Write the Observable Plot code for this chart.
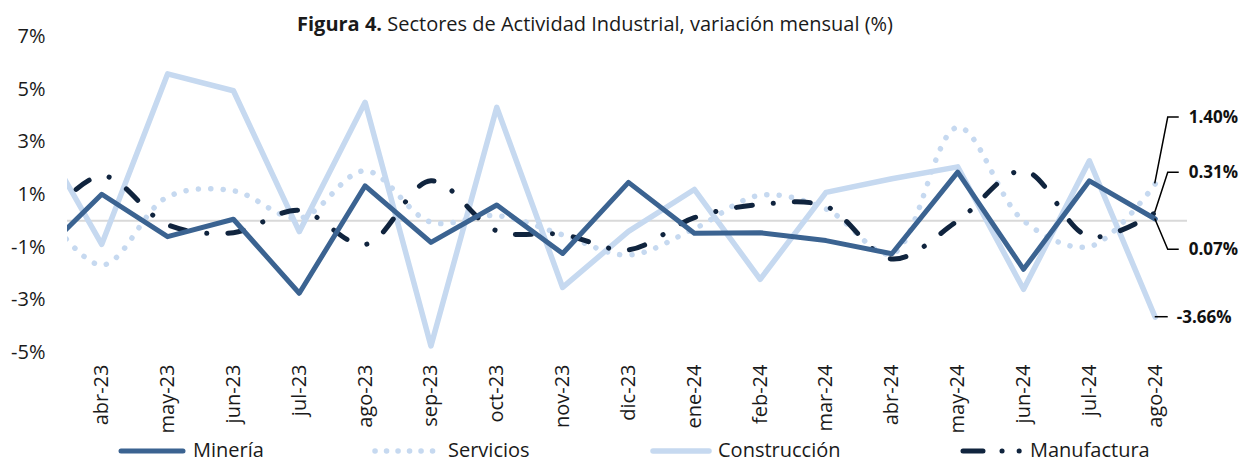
<!DOCTYPE html>
<html>
<head>
<meta charset="utf-8">
<script src="https://cdn.jsdelivr.net/npm/d3@7"></script>
<script src="https://cdn.jsdelivr.net/npm/@observablehq/plot@0.6"></script>
<style>
  html, body { margin: 0; padding: 0; background: #fff; }
  #wrap { position: relative; width: 1243px; height: 464px; font-family: "Open Sans", sans-serif; color: #1a1a1a; }
  #title { position: absolute; top: 10px; left: 297px; font-size: 20px; white-space: nowrap; }
  #legend { position: absolute; top: 436px; left: 0; width: 1243px; height: 27px; font-size: 20px; }
  .item { position: absolute; top: 0; white-space: nowrap; line-height: normal; }
</style>
</head>
<body>
<div id="wrap">
  <div id="chart"></div>
  <div id="title"><b>Figura 4.</b> Sectores de Actividad Industrial, variación mensual (%)</div>
  <div id="legend"></div>
</div>
<script>
// Categories (first one, mar-23, is only partly visible at the left edge, without a label)
const months = ["mar-23","abr-23","may-23","jun-23","jul-23","ago-23","sep-23","oct-23","nov-23","dic-23","ene-24","feb-24","mar-24","abr-24","may-24","jun-24","jul-24","ago-24"];
const xLabels = months.slice(1);
const yTicks = [-5, -3, -1, 1, 3, 5, 7];

const mineria      = [-1.45, 1.01, -0.60, 0.06, -2.75, 1.33, -0.82, 0.60, -1.24, 1.46, -0.47, -0.45, -0.75, -1.25, 1.85, -1.84, 1.52, 0.07];
const servicios    = [0.80, -1.68, 0.91, 1.14, 0.10, 1.90, -0.05, 0.20, -0.53, -1.30, -0.30, 0.97, 0.45, -1.25, 3.55, 0.00, -0.98, 1.40];
const construccion = [3.50, -0.89, 5.58, 4.94, -0.41, 4.50, -4.75, 4.31, -2.53, -0.40, 1.19, -2.22, 1.08, 1.60, 2.05, -2.60, 2.28, -3.66];
const manufactura  = [-0.40, 1.71, -0.15, -0.45, 0.40, -0.90, 1.52, -0.38, -0.52, -1.10, 0.12, 0.62, 0.55, -1.45, 0.00, 1.90, -0.60, 0.31];

const seriesNames = ["Minería", "Servicios", "Construcción", "Manufactura"];
const seriesValues = [mineria, servicios, construccion, manufactura];
const colors = ["#3b6391", "#c6d9f0", "#c6d9f0", "#10243e"];

// end-of-series data labels (value, label position in value units)
const endLabels = [
  {name: "Servicios", value: 1.40, text: "1.40%", labelAt: 3.92},
  {name: "Manufactura", value: 0.31, text: "0.31%", labelAt: 1.83},
  {name: "Minería", value: 0.07, text: "0.07%", labelAt: -1.10},
  {name: "Construcción", value: -3.66, text: "-3.66%", labelAt: -3.66}
];

const rows = seriesNames.map((n, k) => seriesValues[k].map((v, j) => ({serie: n, i: j - 1, v})));

const styles = {
  "Minería": {stroke: colors[0], strokeWidth: 5, curve: "linear"},
  "Servicios": {stroke: colors[1], strokeWidth: 5.5, strokeDasharray: "0.1 12.3", strokeLinecap: "round", curve: "catmull-rom"},
  "Construcción": {stroke: colors[2], strokeWidth: 5.5, curve: "linear"},
  "Manufactura": {stroke: colors[3], strokeWidth: 5, strokeDasharray: "16 21 0.1 21", strokeLinecap: "round", curve: "catmull-rom"}
};
const drawOrder = ["Construcción", "Servicios", "Manufactura", "Minería"];

const annotations = (index, scales, values, dims) => {
  const g = d3.create("svg:g");
  const x = scales.x, y = scales.y;
  for (const d of endLabels) {
    const px = x(16), py = y(d.value), ly = y(d.labelAt);
    let path, tx;
    if (Math.abs(py - ly) < 3) {
      path = `M${px},${py}H${px + 13}`;
      tx = px + 22;
    } else {
      path = `M${px},${py}L${px + 13},${ly}H${px + 24}`;
      tx = px + 34;
    }
    g.append("path").attr("d", path).attr("fill", "none").attr("stroke", "#000").attr("stroke-width", 1.5);
    g.append("text").attr("x", tx).attr("y", ly).attr("dy", "0.35em").attr("text-anchor", "start")
      .attr("font-weight", "bold").attr("font-size", 17).attr("fill", "#111").text(d.text);
  }
  return g.node();
};

const chart = Plot.plot({
  width: 1243,
  height: 464,
  marginTop: 36,
  marginBottom: 112,
  marginLeft: 67,
  marginRight: 56,
  style: {fontFamily: "Open Sans, sans-serif", fontSize: "20px", color: "#1a1a1a", background: "transparent"},
  x: {domain: [-0.52, 16.49], axis: null},
  y: {domain: [-5, 7], axis: null},
  marks: [
    Plot.ruleY([0], {stroke: "#d9d9d9", strokeWidth: 2}),
    ...drawOrder.map(n => Plot.line(rows.find(r => r[0].serie === n), {x: "i", y: "v", clip: true, ...styles[n]})),
    Plot.axisY({ticks: yTicks, tickSize: 0, tickPadding: 22, tickFormat: d => d + "%", fontSize: 20, label: null}),
    Plot.axisX({ticks: d3.range(xLabels.length), tickFormat: i => xLabels[i], tickRotate: -90, tickSize: 0, tickPadding: 12, fontSize: 20, label: null}),
    annotations
  ]
});
document.getElementById("chart").appendChild(chart);

// Legend
const legendSwatch = [[118, 186], [372, 440], [650, 712], [960, 1025]];
const legendText = [193, 448, 718, 1030];
const legend = d3.select("#legend");
seriesNames.forEach((n, k) => {
  const s = styles[n];
  const [a, b] = legendSwatch[k];
  const sw = legend.append("svg").style("position", "absolute").style("left", a + "px").style("top", "5px")
    .attr("width", b - a).attr("height", 20);
  sw.append("line").attr("x1", 3).attr("x2", b - a - 3).attr("y1", 10).attr("y2", 10)
    .attr("stroke", s.stroke).attr("stroke-width", s.strokeWidth)
    .attr("stroke-linecap", "round")
    .attr("stroke-dasharray", n === "Servicios" ? "0.1 11.4" : n === "Manufactura" ? "20 19 0.1 17 0.1 40" : null);
  legend.append("div").attr("class", "item").style("left", legendText[k] + "px").text(n);
});
</script>
</body>
</html>
